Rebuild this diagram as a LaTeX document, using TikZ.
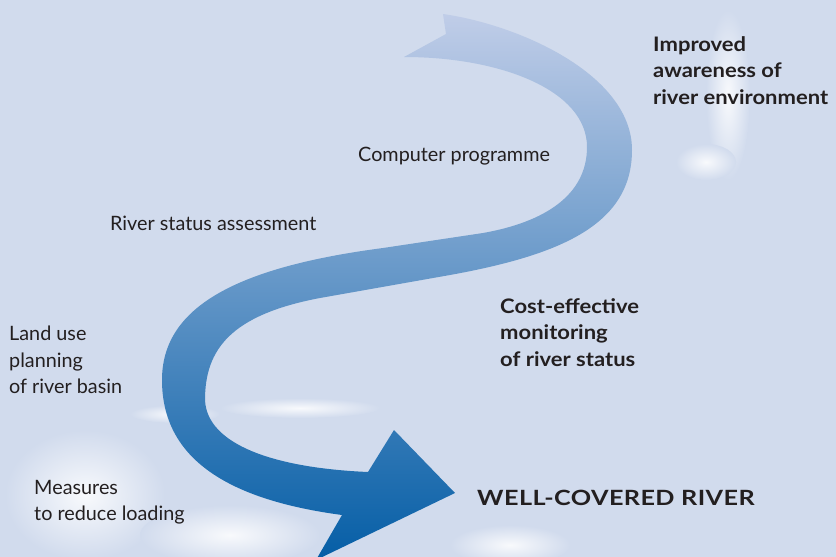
\documentclass[tikz,border=0pt]{standalone}
\usepackage{fontspec}
\setmainfont{Lato}
\definecolor{bgc}{RGB}{209,219,237}
\definecolor{txt}{RGB}{35,31,32}
\definecolor{arrtop}{RGB}{192,205,232}
\definecolor{arrmid}{RGB}{106,141,198}
\definecolor{arrbot}{RGB}{5,94,166}
\begin{document}
\begin{tikzpicture}[x=1pt,y=-1pt,
  lbl/.style={inner sep=0pt,text=txt,font=\fontsize{19.8}{26.5}\selectfont,align=left},
  blbl/.style={lbl,font=\fontsize{20}{26.5}\selectfont\bfseries\addfontfeatures{FakeStretch=1.1}},
  patch/.style={inner color=white!85!bgc,outer color=bgc}]
\useasboundingbox (0,0) rectangle (836,557);
\fill[bgc] (0,0) rectangle (836,557);
% soft light patches of the background
\shade[patch] (728,95) ellipse [x radius=22,y radius=85];
\shade[patch] (706,162) ellipse [x radius=30,y radius=18];
\shade[patch] (85,495) ellipse [x radius=80,y radius=65];
\shade[patch] (230,535) ellipse [x radius=90,y radius=30];
\shade[patch] (300,408) ellipse [x radius=80,y radius=10];
\shade[patch] (175,414) ellipse [x radius=45,y radius=9];
\shade[patch] (510,545) ellipse [x radius=60,y radius=20];
% S-shaped arrow
\shade[top color=arrtop,middle color=arrmid,bottom color=arrbot]
  (443,14) .. controls (520,25) and (632,75) .. (632,150)
  .. controls (632,225) and (560,255) .. (450,275)
  -- (320,298)
  .. controls (230,315) and (205,350) .. (205,400)
  .. controls (207,445) and (275,468) .. (368,472)
  -- (394,430) -- (455,493) -- (316,560) -- (342,515)
  .. controls (230,500) and (162,460) .. (162,380)
  .. controls (162,310) and (230,268) .. (383,248)
  -- (483,233)
  .. controls (545,222) and (587,195) .. (587,147)
  .. controls (587,90) and (500,57) .. (404,57)
  -- (446,34) -- cycle;
% labels
\node[lbl,anchor=base west] (cp) at (358,161) {Computer programme};
\node[lbl,anchor=base west] (rsa) at (110,230) {River status assessment};
\node[blbl,anchor=north west] (ia) at (653,36) {Improved\\awareness of\\river environment};
\node[blbl,anchor=north west] (ce) at (500,298) {Cost-effective\\monitoring\\of river status};
\node[lbl,anchor=north west] (lu) at (9,326) {Land use\\planning\\of river basin};
\node[lbl,anchor=north west] (me) at (34,480) {Measures\\to reduce loading};
\node[lbl,anchor=base west,font=\fontsize{21}{24}\selectfont\bfseries\addfontfeatures{FakeStretch=1.2,LetterSpace=2}] (wcr) at (477,505) {WELL-COVERED RIVER};
\end{tikzpicture}
\end{document}
